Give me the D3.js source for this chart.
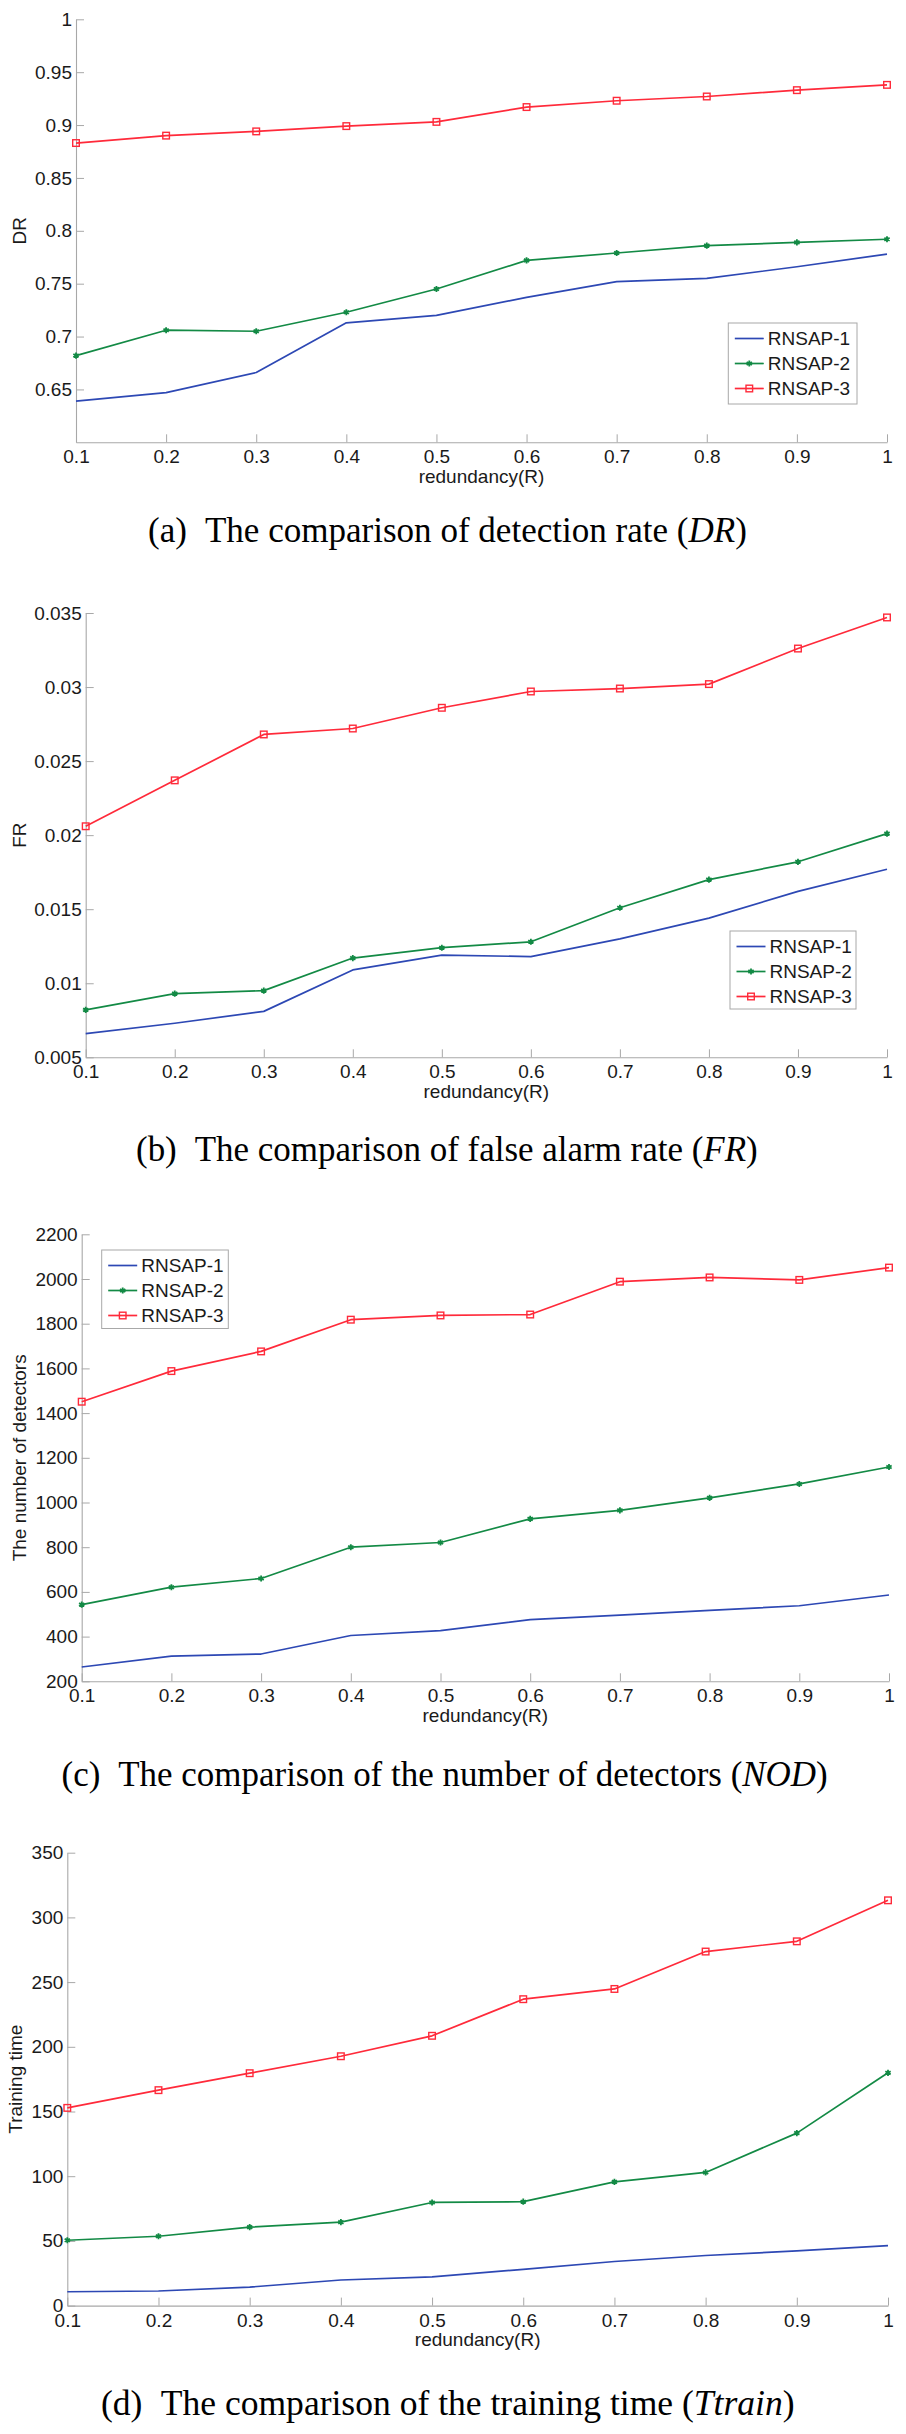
<!DOCTYPE html>
<html>
<head>
<meta charset="utf-8">
<script src="https://cdn.jsdelivr.net/npm/d3@7"></script>
<style>
  html, body { margin: 0; padding: 0; background: #fff; }
  svg { display: block; }
</style>
</head>
<body>
<svg id="chart" width="906" height="2434"></svg>
<script>
// ---------------- DATA ----------------
const redundancy = [0.1, 0.2, 0.3, 0.4, 0.5, 0.6, 0.7, 0.8, 0.9, 1];
const xTickLabels = ["0.1", "0.2", "0.3", "0.4", "0.5", "0.6", "0.7", "0.8", "0.9", "1"];
const seriesNames = ["RNSAP-1", "RNSAP-2", "RNSAP-3"];

// (a) detection rate
const drRNSAP1 = [0.639, 0.647, 0.666, 0.713, 0.720, 0.737, 0.752, 0.755, 0.766, 0.778];
const drRNSAP2 = [0.682, 0.706, 0.705, 0.723, 0.745, 0.772, 0.779, 0.786, 0.789, 0.792];
const drRNSAP3 = [0.883, 0.890, 0.894, 0.899, 0.903, 0.917, 0.923, 0.927, 0.933, 0.938];
const drTicks = [0.65, 0.7, 0.75, 0.8, 0.85, 0.9, 0.95, 1];
const drTickLabels = ["0.65", "0.7", "0.75", "0.8", "0.85", "0.9", "0.95", "1"];

// (b) false alarm rate
const frRNSAP1 = [0.0066, 0.0073, 0.0081, 0.0109, 0.0119, 0.0118, 0.0130, 0.0144, 0.0162, 0.0177];
const frRNSAP2 = [0.0082, 0.0093, 0.0095, 0.0117, 0.0124, 0.0128, 0.0151, 0.0170, 0.0182, 0.0201];
const frRNSAP3 = [0.0206, 0.0237, 0.0268, 0.0272, 0.0286, 0.0297, 0.0299, 0.0302, 0.0326, 0.0347];
const frTicks = [0.005, 0.01, 0.015, 0.02, 0.025, 0.03, 0.035];
const frTickLabels = ["0.005", "0.01", "0.015", "0.02", "0.025", "0.03", "0.035"];

// (c) number of detectors
const nodRNSAP1 = [264, 313, 322, 405, 427, 476, 496, 517, 538, 586];
const nodRNSAP2 = [543, 621, 660, 800, 821, 927, 965, 1021, 1083, 1159];
const nodRNSAP3 = [1451, 1588, 1676, 1818, 1837, 1841, 1988, 2007, 1996, 2051];
const nodTicks = [200, 400, 600, 800, 1000, 1200, 1400, 1600, 1800, 2000, 2200];
const nodTickLabels = ["200", "400", "600", "800", "1000", "1200", "1400", "1600", "1800", "2000", "2200"];

// (d) training time
const ttRNSAP1 = [10.7, 11.3, 14.3, 19.8, 22.2, 28.0, 34.1, 38.7, 42.3, 46.3];
const ttRNSAP2 = [50.5, 53.6, 60.6, 64.5, 79.7, 80.3, 95.6, 102.9, 133.3, 179.9];
const ttRNSAP3 = [152.8, 166.5, 179.6, 192.7, 208.5, 236.8, 244.7, 273.6, 281.5, 313.2];
const ttTicks = [0, 50, 100, 150, 200, 250, 300, 350];
const ttTickLabels = ["0", "50", "100", "150", "200", "250", "300", "350"];

const xAxisTitle = "redundancy(R)";

// ---------------- STYLE / LAYOUT ----------------
const colors = ["#2d48b4", "#138a45", "#ff2a3a"];
const axisColor = "#a8a8a8";
const textColor = "#1a1a1a";
const sansFont = "'Liberation Sans', Arial, sans-serif";
const serifFont = "'Liberation Serif', 'Times New Roman', serif";

const panels = [
  {
    series: [drRNSAP1, drRNSAP2, drRNSAP3], domain: [0.6, 1], ticks: drTicks, tickLabels: drTickLabels,
    yTitle: "DR", left: 76, right: 887, top: 19.3, bottom: 442.3, yTitleX: 18.8,
    legend: { x: 728.3, y: 323, w: 128.7, h: 81 },
    caption: { pre: "(a)", text: "The comparison of detection rate (", ital: "DR", post: ")", x0: 148, x1: 747, base: 542 }
  },
  {
    series: [frRNSAP1, frRNSAP2, frRNSAP3], domain: [0.005, 0.035], ticks: frTicks, tickLabels: frTickLabels,
    yTitle: "FR", left: 85.7, right: 887, top: 613, bottom: 1057.3, yTitleX: 18.8,
    legend: { x: 730, y: 931, w: 126, h: 78 },
    caption: { pre: "(b)", text: "The comparison of false alarm rate (", ital: "FR", post: ")", x0: 136, x1: 758, base: 1161 }
  },
  {
    series: [nodRNSAP1, nodRNSAP2, nodRNSAP3], domain: [200, 2200], ticks: nodTicks, tickLabels: nodTickLabels,
    yTitle: "The number of detectors", left: 81.7, right: 889, top: 1234.3, bottom: 1681.3, yTitleX: 19.4,
    legend: { x: 101.7, y: 1250, w: 126.6, h: 78.5 },
    caption: { pre: "(c)", text: "The comparison of the number of detectors (", ital: "NOD", post: ")", x0: 61.5, x1: 828, base: 1785.5 }
  },
  {
    series: [ttRNSAP1, ttRNSAP2, ttRNSAP3], domain: [0, 350], ticks: ttTicks, tickLabels: ttTickLabels,
    yTitle: "Training time", left: 67.3, right: 888, top: 1852.7, bottom: 2305.6, yTitleX: 15,
    legend: null,
    caption: { pre: "(d)", text: "The comparison of the training time (", ital: "Ttrain", post: ")", x0: 101, x1: 795, base: 2415 }
  }
];

const svg = d3.select("#chart");

function drawMarker(g, idx, x, y) {
  if (idx === 1) {
    g.append("path")
      .attr("d", d3.symbol(d3.symbolAsterisk, 26)())
      .attr("transform", `translate(${x},${y})`)
      .attr("fill", "none").attr("stroke", colors[1]).attr("stroke-width", 1.8);
    g.append("circle").attr("cx", x).attr("cy", y).attr("r", 1.6).attr("fill", colors[1]);
  } else if (idx === 2) {
    g.append("rect")
      .attr("x", x - 3.3).attr("y", y - 3.3).attr("width", 6.6).attr("height", 6.6)
      .attr("fill", "none").attr("stroke", colors[2]).attr("stroke-width", 1.4);
  }
}

panels.forEach(p => {
  const g = svg.append("g");
  const x = d3.scaleLinear().domain([0.1, 1]).range([p.left, p.right]);
  const y = d3.scaleLinear().domain(p.domain).range([p.bottom, p.top]);

  // x axis
  const xAxis = d3.axisBottom(x)
    .tickValues(redundancy)
    .tickFormat((d, i) => xTickLabels[i])
    .tickSizeInner(-8).tickSizeOuter(0).tickPadding(7.5);
  const gx = g.append("g").attr("transform", `translate(0,${p.bottom})`).call(xAxis);

  // y axis
  const yAxis = d3.axisLeft(y)
    .tickValues(p.ticks)
    .tickFormat((d, i) => p.tickLabels[i])
    .tickSizeInner(-8).tickSizeOuter(0).tickPadding(4);
  const gy = g.append("g").attr("transform", `translate(${p.left},0)`).call(yAxis);

  [gx, gy].forEach(a => {
    a.select(".domain").attr("stroke", axisColor).attr("stroke-width", 1.1);
    a.selectAll(".tick line").attr("stroke", axisColor).attr("stroke-width", 1);
    a.selectAll(".tick text").attr("fill", textColor)
      .style("font-family", sansFont).style("font-size", "19px");
  });

  // x title
  g.append("text")
    .attr("x", (p.left + p.right) / 2).attr("y", p.bottom + 40.5)
    .attr("text-anchor", "middle").attr("fill", textColor)
    .style("font-family", sansFont).style("font-size", "19px")
    .text(xAxisTitle);

  // y title
  g.append("text")
    .attr("transform", `translate(${p.yTitleX},${(p.top + p.bottom) / 2}) rotate(-90)`)
    .attr("text-anchor", "middle").attr("dy", "0.36em").attr("fill", textColor)
    .style("font-family", sansFont).style("font-size", "19px")
    .text(p.yTitle);

  // series
  const line = d3.line().x((d, i) => x(redundancy[i])).y(d => y(d));
  p.series.forEach((vals, si) => {
    g.append("path").datum(vals)
      .attr("d", line).attr("fill", "none")
      .attr("stroke", colors[si]).attr("stroke-width", 1.7)
      .attr("stroke-linejoin", "round");
    const mg = g.append("g");
    vals.forEach((v, i) => drawMarker(mg, si, x(redundancy[i]), y(v)));
  });

  // legend
  if (p.legend) {
    const L = p.legend;
    const lg = g.append("g");
    lg.append("rect").attr("x", L.x).attr("y", L.y).attr("width", L.w).attr("height", L.h)
      .attr("fill", "#fff").attr("stroke", axisColor).attr("stroke-width", 1);
    const rowOff = [15.5, 40.5, 65.5];
    seriesNames.forEach((name, si) => {
      const ry = L.y + rowOff[si];
      lg.append("line").attr("x1", L.x + 6.5).attr("x2", L.x + 35.5).attr("y1", ry).attr("y2", ry)
        .attr("stroke", colors[si]).attr("stroke-width", 1.7);
      drawMarker(lg, si, L.x + 21, ry);
      lg.append("text").attr("x", L.x + 39.5).attr("y", ry).attr("dy", "0.36em")
        .attr("fill", textColor).style("font-family", sansFont).style("font-size", "19px")
        .text(name);
    });
  }

  // caption
  const c = p.caption;
  const ct = g.append("text")
    .attr("x", 0).attr("y", 0).attr("fill", "#000")
    .style("font-family", serifFont).style("font-size", "35px");
  ct.append("tspan").text(c.pre);
  ct.append("tspan").attr("dx", 18).text(c.text);
  ct.append("tspan").style("font-style", "italic").text(c.ital);
  ct.append("tspan").text(c.post);
  const bb = ct.node().getBBox();
  const sx = (c.x1 - c.x0) / bb.width;
  ct.attr("transform", `translate(${c.x0 - bb.x * sx},${c.base}) scale(${sx},1)`);
});
</script>
</body>
</html>
